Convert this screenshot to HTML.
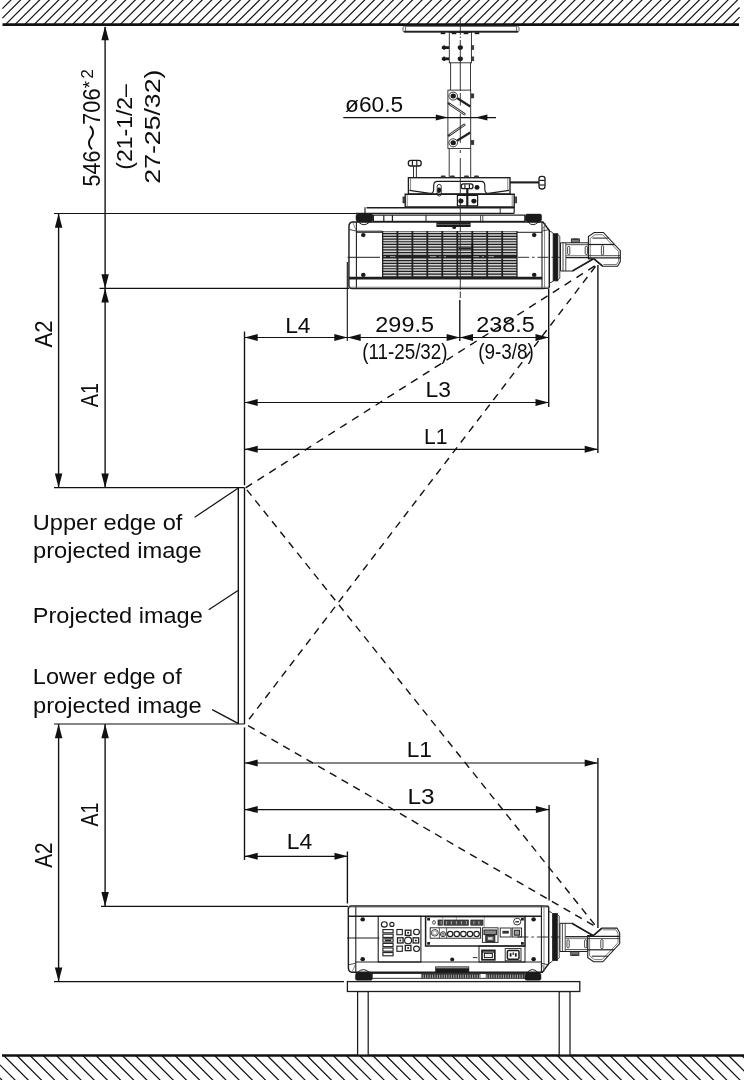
<!DOCTYPE html>
<html lang="en">
<head>
<meta charset="utf-8">
<title>Projector installation dimensions</title>
<style>
html,body{margin:0;padding:0;background:#fff;}
body{width:744px;height:1080px;overflow:hidden;}
svg{display:block;}
text{font-family:"Liberation Sans", "Noto Sans CJK JP", sans-serif;fill:#0d0d0d;stroke:none;}
</style>
</head>
<body>
<svg width="744" height="1080" viewBox="0 0 744 1080" fill="none" stroke="#111" stroke-width="1">
<g id="ceiling">
<path d="M2.4 8.58L11.78 -0.8M2.4 18.14L21.34 -0.8M5.4 24.7L30.9 -0.8M14.96 24.7L40.46 -0.8M24.52 24.7L50.02 -0.8M34.08 24.7L59.58 -0.8M43.64 24.7L69.14 -0.8M53.2 24.7L78.7 -0.8M62.76 24.7L88.26 -0.8M72.32 24.7L97.82 -0.8M81.88 24.7L107.38 -0.8M91.44 24.7L116.94 -0.8M101 24.7L126.5 -0.8M110.56 24.7L136.06 -0.8M120.12 24.7L145.62 -0.8M129.68 24.7L155.18 -0.8M139.24 24.7L164.74 -0.8M148.8 24.7L174.3 -0.8M158.36 24.7L183.86 -0.8M167.92 24.7L193.42 -0.8M177.48 24.7L202.98 -0.8M187.04 24.7L212.54 -0.8M196.6 24.7L222.1 -0.8M206.16 24.7L231.66 -0.8M215.72 24.7L241.22 -0.8M225.28 24.7L250.78 -0.8M234.84 24.7L260.34 -0.8M244.4 24.7L269.9 -0.8M253.96 24.7L279.46 -0.8M263.52 24.7L289.02 -0.8M273.08 24.7L298.58 -0.8M282.64 24.7L308.14 -0.8M292.2 24.7L317.7 -0.8M301.76 24.7L327.26 -0.8M311.32 24.7L336.82 -0.8M320.88 24.7L346.38 -0.8M330.44 24.7L355.94 -0.8M340 24.7L365.5 -0.8M349.56 24.7L375.06 -0.8M359.12 24.7L384.62 -0.8M368.68 24.7L394.18 -0.8M378.24 24.7L403.74 -0.8M387.8 24.7L413.3 -0.8M397.36 24.7L422.86 -0.8M406.92 24.7L432.42 -0.8M416.48 24.7L441.98 -0.8M426.04 24.7L451.54 -0.8M435.6 24.7L461.1 -0.8M445.16 24.7L470.66 -0.8M454.72 24.7L480.22 -0.8M464.28 24.7L489.78 -0.8M473.84 24.7L499.34 -0.8M483.4 24.7L508.9 -0.8M492.96 24.7L518.46 -0.8M502.52 24.7L528.02 -0.8M512.08 24.7L537.58 -0.8M521.64 24.7L547.14 -0.8M531.2 24.7L556.7 -0.8M540.76 24.7L566.26 -0.8M550.32 24.7L575.82 -0.8M559.88 24.7L585.38 -0.8M569.44 24.7L594.94 -0.8M579 24.7L604.5 -0.8M588.56 24.7L614.06 -0.8M598.12 24.7L623.62 -0.8M607.68 24.7L633.18 -0.8M617.24 24.7L642.74 -0.8M626.8 24.7L652.3 -0.8M636.36 24.7L661.86 -0.8M645.92 24.7L671.42 -0.8M655.48 24.7L680.98 -0.8M665.04 24.7L690.54 -0.8M674.6 24.7L700.1 -0.8M684.16 24.7L709.66 -0.8M693.72 24.7L719.22 -0.8M703.28 24.7L728.78 -0.8M712.84 24.7L738.34 -0.8M722.4 24.7L739.6 7.5M731.96 24.7L739.6 17.06" stroke-width="1.2"/>
<line x1="2.5" y1="24.6" x2="739" y2="24.6" stroke-width="2.6"/>
</g>
<g id="floor">
<path d="M-1 1077.16L2.84 1081M-1 1063.98L16.02 1081M3.7 1055.5L29.2 1081M16.88 1055.5L42.38 1081M30.06 1055.5L55.56 1081M43.24 1055.5L68.74 1081M56.42 1055.5L81.92 1081M69.6 1055.5L95.1 1081M82.78 1055.5L108.28 1081M95.96 1055.5L121.46 1081M109.14 1055.5L134.64 1081M122.32 1055.5L147.82 1081M135.5 1055.5L161 1081M148.68 1055.5L174.18 1081M161.86 1055.5L187.36 1081M175.04 1055.5L200.54 1081M188.22 1055.5L213.72 1081M201.4 1055.5L226.9 1081M214.58 1055.5L240.08 1081M227.76 1055.5L253.26 1081M240.94 1055.5L266.44 1081M254.12 1055.5L279.62 1081M267.3 1055.5L292.8 1081M280.48 1055.5L305.98 1081M293.66 1055.5L319.16 1081M306.84 1055.5L332.34 1081M320.02 1055.5L345.52 1081M333.2 1055.5L358.7 1081M346.38 1055.5L371.88 1081M359.56 1055.5L385.06 1081M372.74 1055.5L398.24 1081M385.92 1055.5L411.42 1081M399.1 1055.5L424.6 1081M412.28 1055.5L437.78 1081M425.46 1055.5L450.96 1081M438.64 1055.5L464.14 1081M451.82 1055.5L477.32 1081M465 1055.5L490.5 1081M478.18 1055.5L503.68 1081M491.36 1055.5L516.86 1081M504.54 1055.5L530.04 1081M517.72 1055.5L543.22 1081M530.9 1055.5L556.4 1081M544.08 1055.5L569.58 1081M557.26 1055.5L582.76 1081M570.44 1055.5L595.94 1081M583.62 1055.5L609.12 1081M596.8 1055.5L622.3 1081M609.98 1055.5L635.48 1081M623.16 1055.5L648.66 1081M636.34 1055.5L661.84 1081M649.52 1055.5L675.02 1081M662.7 1055.5L688.2 1081M675.88 1055.5L701.38 1081M689.06 1055.5L714.56 1081M702.24 1055.5L727.74 1081M715.42 1055.5L740.92 1081M728.6 1055.5L745 1071.9M741.78 1055.5L745 1058.72" stroke-width="1.2"/>
<line x1="2" y1="1055.5" x2="744" y2="1055.5" stroke-width="2.6"/>
</g>
<g id="dims" stroke-width="1.25">
<line x1="105.1" y1="27" x2="105.1" y2="487.7" stroke-width="1.38"/>
<path d="M105.1 26 L108.85 40.2 L101.35 40.2 Z" fill="#111" stroke="none"/>
<path d="M105.1 288.4 L108.85 302.6 L101.35 302.6 Z" fill="#111" stroke="none"/>
<path d="M105.1 288.4 L101.35 274.2 L108.85 274.2 Z" fill="#111" stroke="none"/>
<path d="M105.1 487.7 L101.35 473.5 L108.85 473.5 Z" fill="#111" stroke="none"/>
<line x1="58.6" y1="213.5" x2="58.6" y2="487.7" stroke-width="1.38"/>
<path d="M58.6 213.5 L62.35 227.7 L54.85 227.7 Z" fill="#111" stroke="none"/>
<path d="M58.6 487.7 L54.85 473.5 L62.35 473.5 Z" fill="#111" stroke="none"/>
<line x1="54" y1="213.5" x2="357" y2="213.5" stroke-width="1.22"/>
<line x1="99.5" y1="288.4" x2="349" y2="288.4" stroke-width="1.22"/>
<line x1="54" y1="487.7" x2="244.6" y2="487.7" stroke-width="1.22"/>
<line x1="54" y1="724" x2="244.6" y2="724" stroke-width="1.22"/>
<line x1="105.1" y1="724" x2="105.1" y2="906.3" stroke-width="1.38"/>
<path d="M105.1 724 L108.85 738.2 L101.35 738.2 Z" fill="#111" stroke="none"/>
<path d="M105.1 906.3 L101.35 892.1 L108.85 892.1 Z" fill="#111" stroke="none"/>
<line x1="58.6" y1="724" x2="58.6" y2="981.6" stroke-width="1.38"/>
<path d="M58.6 724 L62.35 738.2 L54.85 738.2 Z" fill="#111" stroke="none"/>
<path d="M58.6 981.6 L54.85 967.4 L62.35 967.4 Z" fill="#111" stroke="none"/>
<line x1="101" y1="906.3" x2="348" y2="906.3" stroke-width="1.22"/>
<line x1="54" y1="981.6" x2="344" y2="981.6" stroke-width="1.22"/>
<line x1="244.5" y1="331.5" x2="244.5" y2="485.2" stroke-width="1.38"/>
<line x1="244.5" y1="488" x2="244.5" y2="724" stroke-width="1.38"/>
<line x1="244.5" y1="727.4" x2="244.5" y2="860" stroke-width="1.38"/>
<line x1="238.3" y1="487.7" x2="238.3" y2="724" stroke-width="1.38"/>
<line x1="194.7" y1="517.2" x2="238" y2="488.3" stroke-width="1.22"/>
<line x1="208.7" y1="609.8" x2="238" y2="590.6" stroke-width="1.22"/>
<line x1="212.2" y1="709.6" x2="238" y2="723.4" stroke-width="1.22"/>
<line x1="347.3" y1="262" x2="347.3" y2="341" stroke-width="1.1"/>
<line x1="459.8" y1="300" x2="459.8" y2="341" stroke-width="1.38"/>
<line x1="548.7" y1="289" x2="548.7" y2="407" stroke-width="1.38"/>
<line x1="597.9" y1="265" x2="597.9" y2="453" stroke-width="1.38"/>
<line x1="244.5" y1="337.5" x2="548.7" y2="337.5" stroke-width="1.22"/>
<path d="M244.5 337.5 L257.7 334 L257.7 341 Z" fill="#111" stroke="none"/>
<path d="M347.5 337.5 L334.3 341 L334.3 334 Z" fill="#111" stroke="none"/>
<path d="M347.5 337.5 L360.7 334 L360.7 341 Z" fill="#111" stroke="none"/>
<path d="M459.8 337.5 L446.6 341 L446.6 334 Z" fill="#111" stroke="none"/>
<path d="M459.8 337.5 L473 334 L473 341 Z" fill="#111" stroke="none"/>
<path d="M548.7 337.5 L535.5 341 L535.5 334 Z" fill="#111" stroke="none"/>
<line x1="244.5" y1="402.5" x2="548.7" y2="402.5" stroke-width="1.22"/>
<path d="M244.5 402.5 L257.7 399 L257.7 406 Z" fill="#111" stroke="none"/>
<path d="M548.7 402.5 L535.5 406 L535.5 399 Z" fill="#111" stroke="none"/>
<line x1="244.5" y1="449.3" x2="597.9" y2="449.3" stroke-width="1.22"/>
<path d="M244.5 449.3 L257.7 445.8 L257.7 452.8 Z" fill="#111" stroke="none"/>
<path d="M597.9 449.3 L584.7 452.8 L584.7 445.8 Z" fill="#111" stroke="none"/>
<line x1="244.5" y1="763" x2="597.9" y2="763" stroke-width="1.22"/>
<path d="M244.5 763 L257.7 759.5 L257.7 766.5 Z" fill="#111" stroke="none"/>
<path d="M597.9 763 L584.7 766.5 L584.7 759.5 Z" fill="#111" stroke="none"/>
<line x1="244.5" y1="809.6" x2="549.1" y2="809.6" stroke-width="1.22"/>
<path d="M244.5 809.6 L257.7 806.1 L257.7 813.1 Z" fill="#111" stroke="none"/>
<path d="M549.1 809.6 L535.9 813.1 L535.9 806.1 Z" fill="#111" stroke="none"/>
<line x1="244.5" y1="856.3" x2="347.7" y2="856.3" stroke-width="1.22"/>
<path d="M244.5 856.3 L257.7 852.8 L257.7 859.8 Z" fill="#111" stroke="none"/>
<path d="M347.7 856.3 L334.5 859.8 L334.5 852.8 Z" fill="#111" stroke="none"/>
<line x1="597.9" y1="758" x2="597.9" y2="928" stroke-width="1.38"/>
<line x1="549.1" y1="805" x2="549.1" y2="900.5" stroke-width="1.38"/>
<line x1="347.4" y1="851.5" x2="347.4" y2="903.5" stroke-width="1.38"/>
<g stroke-width="1.4">
<line x1="245.4" y1="488" x2="597" y2="264.5" stroke-width="1.4" stroke-dasharray="7.7 6.3" stroke-dashoffset="13.7"/>
<line x1="245.4" y1="724" x2="597" y2="264.5" stroke-width="1.4" stroke-dasharray="7.4 6.0" stroke-dashoffset="7.4"/>
<line x1="245.4" y1="488" x2="597" y2="927.5" stroke-width="1.4" stroke-dasharray="7.4 6.0" stroke-dashoffset="11.0"/>
<line x1="245.4" y1="724" x2="597" y2="927.5" stroke-width="1.4" stroke-dasharray="7.6 5.9" stroke-dashoffset="10.4"/>
</g>
</g>
<g id="ceiling-mount" stroke="#222" stroke-width="0.9">
<rect x="403" y="26.3" width="116" height="5.7" fill="none" stroke="#444" rx="1.5"/>
<line x1="404" y1="31.6" x2="518" y2="31.6" stroke-width="1.7"/>
<line x1="405.5" y1="27" x2="405.5" y2="31" stroke="#666"/>
<line x1="516.5" y1="27" x2="516.5" y2="31" stroke="#666"/>
<rect x="449.3" y="32.5" width="22.1" height="30.3" fill="#fff"/>
<rect x="440.7" y="32.3" width="4.6" height="1.9" fill="#1a1a1a" stroke="none"/>
<rect x="451.7" y="32.3" width="4.6" height="1.9" fill="#1a1a1a" stroke="none"/>
<rect x="463.7" y="32.3" width="4.6" height="1.9" fill="#1a1a1a" stroke="none"/>
<rect x="474.7" y="32.3" width="4.6" height="1.9" fill="#1a1a1a" stroke="none"/>
<rect x="441.8" y="46.2" width="7.2" height="2.8" fill="#1a1a1a" stroke="none"/>
<rect x="443.2" y="45.4" width="2" height="4.4" fill="#1a1a1a" stroke="none"/>
<rect x="471.8" y="45.7" width="2" height="3.8" fill="#444" stroke-width="0.6"/>
<ellipse cx="460.3" cy="47.6" rx="2.6" ry="2.4" fill="#1a1a1a" stroke="none"/>
<rect x="441.8" y="57.4" width="7.2" height="2.8" fill="#1a1a1a" stroke="none"/>
<rect x="443.2" y="56.6" width="2" height="4.4" fill="#1a1a1a" stroke="none"/>
<rect x="471.8" y="56.9" width="2" height="3.8" fill="#444" stroke-width="0.6"/>
<ellipse cx="460.3" cy="58.8" rx="2.6" ry="2.4" fill="#1a1a1a" stroke="none"/>
<line x1="450.6" y1="62.8" x2="450.6" y2="90"/>
<line x1="470.5" y1="62.8" x2="470.5" y2="90"/>
<line x1="449.2" y1="148.4" x2="449.2" y2="177.5"/>
<line x1="470.7" y1="148.4" x2="470.7" y2="177.5"/>
<rect x="447.9" y="90.1" width="22.8" height="58.3" fill="#fff"/>
<rect x="471.2" y="93.9" width="2.6" height="4" fill="#333" stroke-width="0.6"/>
<path d="M457.0 98.1 L470.3 106.4" fill="none" stroke-width="2.3"/>
<path d="M448.8 103.5 L464.4 114.1" fill="none" stroke-width="2.4" stroke="#2a2a2a" stroke-linecap="round"/>
<path d="M450 104.3 L464.4 114.1" fill="none" stroke-width="0.8" stroke="#eee" stroke-linecap="round"/>
<ellipse cx="453.2" cy="96.1" rx="4.3" ry="4" fill="#fff"/>
<ellipse cx="453.2" cy="96.1" rx="2.7" ry="2.5" fill="#1a1a1a" stroke="none"/>
<rect x="471.2" y="140.6" width="2.6" height="4" fill="#333" stroke-width="0.6"/>
<path d="M457.0 140.8 L470.3 132.5" fill="none" stroke-width="2.3"/>
<path d="M448.8 135.4 L464.4 124.8" fill="none" stroke-width="2.4" stroke="#2a2a2a" stroke-linecap="round"/>
<path d="M450 134.6 L464.4 124.8" fill="none" stroke-width="0.8" stroke="#eee" stroke-linecap="round"/>
<ellipse cx="453.2" cy="142.8" rx="4.3" ry="4" fill="#fff"/>
<ellipse cx="453.2" cy="142.8" rx="2.7" ry="2.5" fill="#1a1a1a" stroke="none"/>
</g>
<g stroke="#111" stroke-width="1.05">
<line x1="343.3" y1="117.6" x2="496" y2="117.6"/>
<path d="M447.8 117.6 L435.8 120.6 L435.8 114.6 Z" fill="#111" stroke="none"/>
<path d="M475.4 117.6 L487.4 114.6 L487.4 120.6 Z" fill="#111" stroke="none"/>
</g>
<g id="mount" stroke="#1c1c1c" stroke-width="1.15">
<line x1="413.5" y1="166" x2="413.5" y2="177.5" stroke-width="0.9"/>
<line x1="416.4" y1="166" x2="416.4" y2="177.5" stroke-width="0.9"/>
<rect x="408.3" y="160.4" width="12.9" height="5.6" fill="#fff" stroke-width="1.3" rx="2.6"/>
<line x1="412.4" y1="160.6" x2="412.4" y2="165.8"/>
<line x1="416.8" y1="160.6" x2="416.8" y2="165.8"/>
<line x1="510" y1="182.4" x2="539.5" y2="182.4" stroke-width="2.1"/>
<rect x="539" y="176.4" width="6" height="12.6" fill="#fff" stroke-width="1.3" rx="2.4"/>
<line x1="539.2" y1="180.4" x2="544.8" y2="180.4"/>
<line x1="539.2" y1="185" x2="544.8" y2="185"/>
<rect x="408.4" y="177.7" width="101.6" height="16.3" fill="#fff" stroke-width="1.35"/>
<rect x="440.8" y="175.6" width="4.8" height="1.9" fill="#333" stroke="none" rx="0.8"/>
<rect x="450" y="175.6" width="4.8" height="1.9" fill="#333" stroke="none" rx="0.8"/>
<rect x="464.1" y="175.6" width="4.8" height="1.9" fill="#333" stroke="none" rx="0.8"/>
<rect x="474.1" y="175.6" width="4.8" height="1.9" fill="#333" stroke="none" rx="0.8"/>
<path d="M409.4 190.4 L430 193.4 Q433.4 193.4 433.6 190 L433.8 184.6 Q434 181.3 437.5 181.3 L481 181.3 Q484.5 181.3 484.7 184.6 L484.9 190 Q485.1 193.4 488.5 193.4 L509 190.4" fill="none"/>
<line x1="410.6" y1="178" x2="410.6" y2="190.4" stroke-width="0.7" stroke="#555"/>
<line x1="507.8" y1="178" x2="507.8" y2="190.4" stroke-width="0.7" stroke="#555"/>
<rect x="437.2" y="184.4" width="4" height="11.6" fill="#fff" stroke-width="0.9" rx="2"/>
<ellipse cx="439.2" cy="190.2" rx="1.9" ry="2.8" fill="#1a1a1a" stroke="none"/>
<line x1="467.3" y1="188" x2="467.3" y2="206" stroke-width="2.2"/>
<rect x="461.2" y="183.9" width="11.8" height="4.7" fill="#fff" stroke-width="1.3" rx="2.2"/>
<line x1="464.9" y1="184.2" x2="464.9" y2="188.4"/>
<line x1="469.4" y1="184.2" x2="469.4" y2="188.4"/>
<ellipse cx="477" cy="187.4" rx="2.5" ry="2.3" fill="#1a1a1a" stroke="none"/>
<rect x="457.4" y="195.4" width="20.2" height="10.4" fill="#fff" stroke-width="1.2"/>
<ellipse cx="460.9" cy="201.1" rx="2.6" ry="2.4" fill="#1a1a1a" stroke="none"/>
<ellipse cx="473.9" cy="201.1" rx="2.6" ry="2.4" fill="#1a1a1a" stroke="none"/>
<line x1="467.3" y1="195" x2="467.3" y2="206.4" stroke-width="2.2"/>
<path d="M405.2 194.2 L514.2 194.2 L514.2 207 L405.2 207 Z" fill="none" stroke-width="1.35"/>
<line x1="407.2" y1="194.5" x2="407.2" y2="207" stroke-width="0.7" stroke="#555"/>
<line x1="512.2" y1="194.5" x2="512.2" y2="207" stroke-width="0.7" stroke="#555"/>
<rect x="403" y="197" width="2" height="5.8" fill="#555" stroke-width="0.8"/>
<rect x="514.4" y="197" width="2" height="5.8" fill="#555" stroke-width="0.8"/>
<line x1="365" y1="207.2" x2="365" y2="213.3"/>
<line x1="366.6" y1="207.8" x2="514.2" y2="207.8" stroke-width="1.5"/>
<line x1="356" y1="213.3" x2="514.2" y2="213.3" stroke-width="1.3"/>
<line x1="514.2" y1="207.2" x2="514.2" y2="213.3"/>
<line x1="500.2" y1="207.7" x2="500.2" y2="213.3" stroke-width="0.9"/>
</g>
<g id="projector-top" stroke="#1e1e1e" stroke-width="1.0">
<path d="M356 288.4 L542 288.4 L548.6 288.1 L549.3 286.9 L549.3 230.5 L543 222.0 L352.5 222.0 Q349.2 222.3 349 226.0 L348.9 285.4 Q348.9 288.4 352 288.4 Z" fill="#fff" stroke-width="1.45"/>
<line x1="356.4" y1="288.4" x2="356.4" y2="222" stroke-width="1.1"/>
<line x1="542" y1="288.4" x2="542" y2="222" stroke-width="1.1"/>
<line x1="544.6" y1="287.9" x2="544.6" y2="224" stroke-width="0.7" stroke="#555"/>
<path d="M349.2 229.5 L356 231.0" fill="none" stroke-width="0.8"/>
<path d="M353 223.0 L356 230.0" fill="none" stroke-width="0.7" stroke="#555"/>
<path d="M542.2 231.0 L549.3 229.5" fill="none" stroke-width="0.8"/>
<path d="M545.5 223.0 L542.5 230.0" fill="none" stroke-width="0.7" stroke="#555"/>
<path d="M358.5 222.2 Q363.9 227.2 369.5 222.2" fill="#fff"/>
<path d="M357.6 214.1 L371.4 214.1 Q373.0 214.1 373.0 215.7 L373.0 219.4 Q372.6 222.4 368.5 222.5 L360.5 222.5 Q356.4 222.4 356.0 219.4 L356.0 215.7 Q356.0 214.1 357.6 214.1 Z" fill="#1a1a1a" stroke-width="0.5"/>
<path d="M528.1 222.2 Q533.0 227.2 538.1 222.2" fill="#fff"/>
<path d="M527.2 214.1 L540.0 214.1 Q541.6 214.1 541.6 215.7 L541.6 219.4 Q541.2 222.4 537.1 222.5 L530.1 222.5 Q526.0 222.4 525.6 219.4 L525.6 215.7 Q525.6 214.1 527.2 214.1 Z" fill="#1a1a1a" stroke-width="0.5"/>
<line x1="349" y1="278.1" x2="542.2" y2="278.1" stroke-width="2.6"/>
<line x1="356" y1="232.3" x2="542.2" y2="232.3"/>
<line x1="349" y1="287.2" x2="549" y2="287.2" stroke-width="0.7" stroke="#666"/>
<rect x="372.8" y="216" width="152.6" height="4.8" fill="#fff" stroke-width="0.9"/>
<ellipse cx="363.3" cy="274.9" rx="2.3" ry="2.1" fill="#1a1a1a" stroke="none"/>
<ellipse cx="363.3" cy="235.1" rx="2.3" ry="2.1" fill="#1a1a1a" stroke="none"/>
<ellipse cx="534.2" cy="274.9" rx="2.3" ry="2.1" fill="#1a1a1a" stroke="none"/>
<ellipse cx="534.2" cy="235.1" rx="2.3" ry="2.1" fill="#1a1a1a" stroke="none"/>
<path d="M549.3 282.8 Q552.5 282.3 553.2 280.8 L553.2 233.8 Q552.5 231.8 549.3 230.8" fill="none" stroke-width="0.9"/>
<rect x="553.6" y="233.7" width="4.3" height="47.2" fill="#1a1a1a" stroke-width="0.8"/>
<path d="M558 279.8 L559.8 278.3 L559.8 236.3 L558 234.8" fill="none" stroke-width="0.8"/>
<line x1="347.6" y1="257.3" x2="380" y2="257.3"/>
<line x1="518" y1="257.3" x2="566" y2="257.3" stroke-width="0.9" stroke-dasharray="11 3 2.5 3"/>
<path d="M560.5 242.8 L588.4 242.8 L588.4 258.8 L593.6 258.8 L572.4 271.0 L560.5 271.0 Z" fill="#fff"/>
<path d="M572.4 271.0 L593.6 258.8" fill="none" stroke-width="1.6"/>
<line x1="563" y1="271" x2="563" y2="242.8" stroke-width="0.8"/>
<line x1="565.8" y1="271" x2="565.8" y2="242.8" stroke-width="0.8"/>
<line x1="566" y1="244.7" x2="588.4" y2="244.7" stroke-width="0.8"/>
<line x1="566" y1="257.6" x2="590" y2="257.6" stroke-width="1.3"/>
<line x1="566" y1="255.7" x2="588.4" y2="255.7" stroke-width="0.7" stroke="#444"/>
<rect x="567.6" y="246.5" width="2.2" height="8" fill="none" stroke-width="0.8" rx="0.8"/>
<rect x="585.2" y="246.5" width="2.2" height="8" fill="none" stroke-width="0.8" rx="0.8"/>
<rect x="571.3" y="238.9" width="8.2" height="3.7" fill="#777" stroke-width="0.8"/>
<rect x="572.6" y="238.7" width="5.6" height="1.2" fill="#333" stroke="none"/>
<path d="M588.4 258.8 L588.4 236.5 L594.2 232.5 L603.4 232.5 L620.3 250.7 L620.3 261.5 L617.6 266.2 L602.6 266.2 L594 258.8 Z" fill="#fff" stroke-width="1.1"/>
<path d="M590.2 238.5 L595 234.7 L602.6 234.7 L618.6 251.5 L618.6 260.9 L616.6 264.5 L603.4 264.5" fill="none" stroke-width="0.7" stroke="#444"/>
<path d="M590.2 238.5 L590.2 258.8" fill="none" stroke-width="0.7" stroke="#444"/>
<path d="M592.5 238.1 L608.6 238.1" fill="none"/>
<line x1="588.4" y1="244.5" x2="614.6" y2="244.5" stroke-width="1.2"/>
<line x1="588.4" y1="255.7" x2="620.3" y2="255.7" stroke-width="0.8"/>
<line x1="588.4" y1="257.9" x2="620.3" y2="257.9" stroke-width="1.2"/>
<line x1="594" y1="258.8" x2="602.6" y2="266.2" stroke-width="1.6"/>
<rect x="601.4" y="245.7" width="2.2" height="9" fill="none" stroke-width="0.8" rx="0.8"/>
<g id="grill" stroke="none">
<line x1="356" y1="231.2" x2="382.4" y2="231.2" stroke="#222"/>
<rect x="382" y="231" width="135.6" height="46" fill="#202020" stroke="none"/>
<path d="M383.3 232.30H396.5M383.3 235.00H396.5M383.3 237.70H396.5M383.3 240.40H396.5M383.3 243.10H396.5M383.3 245.80H396.5M383.3 248.50H396.5M383.3 251.20H396.5M383.3 253.90H396.5M383.3 259.30H396.5M383.3 262.00H396.5M383.3 264.70H396.5M383.3 267.40H396.5M383.3 270.10H396.5M383.3 272.80H396.5M383.3 275.50H396.5M398.3 232.30H411.5M398.3 235.00H411.5M398.3 237.70H411.5M398.3 240.40H411.5M398.3 243.10H411.5M398.3 245.80H411.5M398.3 248.50H411.5M398.3 251.20H411.5M398.3 253.90H411.5M398.3 259.30H411.5M398.3 262.00H411.5M398.3 264.70H411.5M398.3 267.40H411.5M398.3 270.10H411.5M398.3 272.80H411.5M398.3 275.50H411.5M413.3 232.30H426.4M413.3 235.00H426.4M413.3 237.70H426.4M413.3 240.40H426.4M413.3 243.10H426.4M413.3 245.80H426.4M413.3 248.50H426.4M413.3 251.20H426.4M413.3 253.90H426.4M413.3 259.30H426.4M413.3 262.00H426.4M413.3 264.70H426.4M413.3 267.40H426.4M413.3 270.10H426.4M413.3 272.80H426.4M413.3 275.50H426.4M428.2 232.30H441.4M428.2 235.00H441.4M428.2 237.70H441.4M428.2 240.40H441.4M428.2 243.10H441.4M428.2 245.80H441.4M428.2 248.50H441.4M428.2 251.20H441.4M428.2 253.90H441.4M428.2 259.30H441.4M428.2 262.00H441.4M428.2 264.70H441.4M428.2 267.40H441.4M428.2 270.10H441.4M428.2 272.80H441.4M428.2 275.50H441.4M443.2 232.30H456.4M443.2 235.00H456.4M443.2 237.70H456.4M443.2 240.40H456.4M443.2 243.10H456.4M443.2 245.80H456.4M443.2 248.50H456.4M443.2 251.20H456.4M443.2 253.90H456.4M443.2 259.30H456.4M443.2 262.00H456.4M443.2 264.70H456.4M443.2 267.40H456.4M443.2 270.10H456.4M443.2 272.80H456.4M443.2 275.50H456.4M458.2 232.30H471.4M458.2 235.00H471.4M458.2 237.70H471.4M458.2 240.40H471.4M458.2 243.10H471.4M458.2 245.80H471.4M458.2 248.50H471.4M458.2 251.20H471.4M458.2 253.90H471.4M458.2 259.30H471.4M458.2 262.00H471.4M458.2 264.70H471.4M458.2 267.40H471.4M458.2 270.10H471.4M458.2 272.80H471.4M458.2 275.50H471.4M473.2 232.30H486.3M473.2 235.00H486.3M473.2 237.70H486.3M473.2 240.40H486.3M473.2 243.10H486.3M473.2 245.80H486.3M473.2 248.50H486.3M473.2 251.20H486.3M473.2 253.90H486.3M473.2 259.30H486.3M473.2 262.00H486.3M473.2 264.70H486.3M473.2 267.40H486.3M473.2 270.10H486.3M473.2 272.80H486.3M473.2 275.50H486.3M488.1 232.30H501.3M488.1 235.00H501.3M488.1 237.70H501.3M488.1 240.40H501.3M488.1 243.10H501.3M488.1 245.80H501.3M488.1 248.50H501.3M488.1 251.20H501.3M488.1 253.90H501.3M488.1 259.30H501.3M488.1 262.00H501.3M488.1 264.70H501.3M488.1 267.40H501.3M488.1 270.10H501.3M488.1 272.80H501.3M488.1 275.50H501.3M503.1 232.30H516.3M503.1 235.00H516.3M503.1 237.70H516.3M503.1 240.40H516.3M503.1 243.10H516.3M503.1 245.80H516.3M503.1 248.50H516.3M503.1 251.20H516.3M503.1 253.90H516.3M503.1 259.30H516.3M503.1 262.00H516.3M503.1 264.70H516.3M503.1 267.40H516.3M503.1 270.10H516.3M503.1 272.80H516.3M503.1 275.50H516.3" stroke="#d2d2d2" stroke-width="1.5" fill="none"/>
<line x1="383.6" y1="256.6" x2="386" y2="256.6" stroke="#9a9a9a"/>
<line x1="390" y1="256.6" x2="395.4" y2="256.6" stroke="#9a9a9a"/>
<line x1="429.8" y1="256.6" x2="436.2" y2="256.6" stroke="#9a9a9a"/>
<line x1="439.4" y1="256.6" x2="440.6" y2="256.6" stroke="#9a9a9a"/>
<line x1="443.8" y1="256.6" x2="446" y2="256.6" stroke="#9a9a9a"/>
<line x1="473" y1="256.6" x2="479" y2="256.6" stroke="#9a9a9a"/>
<line x1="482" y1="256.6" x2="484" y2="256.6" stroke="#9a9a9a"/>
<line x1="488.5" y1="256.6" x2="494" y2="256.6" stroke="#9a9a9a"/>
<line x1="472.4" y1="243.5" x2="472.4" y2="262.5" stroke-width="1.6" stroke="#111"/>
<line x1="458.5" y1="248.4" x2="471.4" y2="248.4" stroke-width="1.1" stroke="#1c1c1c"/>
</g>
<rect x="373.4" y="215.1" width="151.4" height="6.3" fill="#fff" stroke-width="1.2"/>
<line x1="383.8" y1="215.2" x2="383.8" y2="221.6" stroke-width="1.2"/>
<line x1="392.4" y1="215.2" x2="392.4" y2="221.6" stroke-width="1.2"/>
<line x1="426" y1="215.2" x2="426" y2="221.6"/>
<line x1="482.8" y1="215.2" x2="482.8" y2="221.6" stroke-width="0.8"/>
<line x1="480.6" y1="215.2" x2="480.6" y2="221.6" stroke-width="0.8"/>
<rect x="436.4" y="222.2" width="34.2" height="4.8" fill="#1a1a1a" stroke="none"/>
<line x1="436.4" y1="224.4" x2="470.6" y2="224.4" stroke-width="0.6" stroke="#999"/>
<ellipse cx="454.2" cy="227.4" rx="1.9" ry="1.7" fill="#1a1a1a" stroke="none"/>
</g>
<g stroke="#222" stroke-width="0.9">
<line x1="460.3" y1="17.5" x2="460.3" y2="35"/>
<line x1="460.3" y1="36.5" x2="460.3" y2="38"/>
<line x1="460.3" y1="40" x2="460.3" y2="91"/>
<line x1="460.3" y1="93" x2="460.3" y2="105.5"/>
<line x1="460.3" y1="113.5" x2="460.3" y2="143"/>
<line x1="460.3" y1="150" x2="460.3" y2="153"/>
<line x1="460.3" y1="158" x2="460.3" y2="196"/>
<line x1="460.3" y1="198" x2="460.3" y2="206"/>
<line x1="460.3" y1="207" x2="460.3" y2="232"/>
<line x1="460.3" y1="234" x2="460.3" y2="290"/>
<line x1="460.3" y1="291.5" x2="460.3" y2="298"/>
</g>
<g id="table" stroke="#1c1c1c" stroke-width="1.25">
<rect x="357.6" y="991.5" width="10.6" height="63.5" fill="#fff"/>
<rect x="559.2" y="991.5" width="10.8" height="63.5" fill="#fff"/>
<rect x="347.4" y="981.6" width="232.4" height="9.9" fill="#fff" stroke-width="1.3"/>
</g>
<g id="projector-bottom" stroke="#1e1e1e" stroke-width="1.0" transform="translate(-0.6 0)">
<path d="M356 905.9 L542 905.9 L548.6 906.2 L549.3 907.4 L549.3 963.8 L543 972.3 L352.5 972.3 Q349.2 972.0 349 968.3 L348.9 908.9 Q348.9 905.9 352 905.9 Z" fill="#fff" stroke-width="1.45"/>
<line x1="356.4" y1="905.9" x2="356.4" y2="972.3" stroke-width="1.1"/>
<line x1="542" y1="905.9" x2="542" y2="972.3" stroke-width="1.1"/>
<line x1="544.6" y1="906.4" x2="544.6" y2="970.3" stroke-width="0.7" stroke="#555"/>
<path d="M349.2 964.8 L356 963.3" fill="none" stroke-width="0.8"/>
<path d="M353 971.3 L356 964.3" fill="none" stroke-width="0.7" stroke="#555"/>
<path d="M542.2 963.3 L549.3 964.8" fill="none" stroke-width="0.8"/>
<path d="M545.5 971.3 L542.5 964.3" fill="none" stroke-width="0.7" stroke="#555"/>
<path d="M358.5 972.1 Q363.9 967.1 369.5 972.1" fill="#fff"/>
<path d="M357.6 980.2 L371.4 980.2 Q373.0 980.2 373.0 978.6 L373.0 974.9 Q372.6 971.9 368.5 971.8 L360.5 971.8 Q356.4 971.9 356.0 974.9 L356.0 978.6 Q356.0 980.2 357.6 980.2 Z" fill="#1a1a1a" stroke-width="0.5"/>
<path d="M528.1 972.1 Q533.0 967.1 538.1 972.1" fill="#fff"/>
<path d="M527.2 980.2 L540.0 980.2 Q541.6 980.2 541.6 978.6 L541.6 974.9 Q541.2 971.9 537.1 971.8 L530.1 971.8 Q526.0 971.9 525.6 974.9 L525.6 978.6 Q525.6 980.2 527.2 980.2 Z" fill="#1a1a1a" stroke-width="0.5"/>
<line x1="349" y1="916.2" x2="542.2" y2="916.2" stroke-width="1.6"/>
<line x1="356" y1="962" x2="542.2" y2="962"/>
<line x1="349" y1="907.1" x2="549" y2="907.1" stroke-width="0.7" stroke="#666"/>
<rect x="372.8" y="973.5" width="152.6" height="4.8" fill="#fff" stroke-width="0.9"/>
<ellipse cx="363.3" cy="919.4" rx="2.3" ry="2.1" fill="#1a1a1a" stroke="none"/>
<ellipse cx="363.3" cy="959.2" rx="2.3" ry="2.1" fill="#1a1a1a" stroke="none"/>
<ellipse cx="534.2" cy="919.4" rx="2.3" ry="2.1" fill="#1a1a1a" stroke="none"/>
<ellipse cx="534.2" cy="959.2" rx="2.3" ry="2.1" fill="#1a1a1a" stroke="none"/>
<path d="M549.3 911.5 Q552.5 912.0 553.2 913.5 L553.2 960.5 Q552.5 962.5 549.3 963.5" fill="none" stroke-width="0.9"/>
<rect x="553.6" y="913.4" width="4.3" height="47.2" fill="#1a1a1a" stroke-width="0.8"/>
<path d="M558 914.5 L559.8 916.0 L559.8 958.0 L558 959.5" fill="none" stroke-width="0.8"/>
<line x1="347.6" y1="938" x2="380" y2="938"/>
<line x1="518" y1="937" x2="566" y2="937" stroke-width="0.9" stroke-dasharray="11 3 2.5 3"/>
<path d="M560.5 951.5 L588.4 951.5 L588.4 935.5 L593.6 935.5 L572.4 923.3 L560.5 923.3 Z" fill="#fff"/>
<path d="M572.4 923.3 L593.6 935.5" fill="none" stroke-width="1.6"/>
<line x1="563" y1="923.3" x2="563" y2="951.5" stroke-width="0.8"/>
<line x1="565.8" y1="923.3" x2="565.8" y2="951.5" stroke-width="0.8"/>
<line x1="566" y1="949.6" x2="588.4" y2="949.6" stroke-width="0.8"/>
<line x1="566" y1="936.7" x2="590" y2="936.7" stroke-width="1.3"/>
<line x1="566" y1="938.6" x2="588.4" y2="938.6" stroke-width="0.7" stroke="#444"/>
<rect x="567.6" y="939.8" width="2.2" height="8" fill="none" stroke-width="0.8" rx="0.8"/>
<rect x="585.2" y="939.8" width="2.2" height="8" fill="none" stroke-width="0.8" rx="0.8"/>
<rect x="571.3" y="951.7" width="8.2" height="3.7" fill="#777" stroke-width="0.8"/>
<rect x="572.6" y="954.4" width="5.6" height="1.2" fill="#333" stroke="none"/>
<path d="M588.4 935.5 L588.4 957.8 L594.2 961.8 L603.4 961.8 L620.3 943.6 L620.3 932.8 L617.6 928.1 L602.6 928.1 L594 935.5 Z" fill="#fff" stroke-width="1.1"/>
<path d="M590.2 955.8 L595 959.6 L602.6 959.6 L618.6 942.8 L618.6 933.4 L616.6 929.8 L603.4 929.8" fill="none" stroke-width="0.7" stroke="#444"/>
<path d="M590.2 955.8 L590.2 935.5" fill="none" stroke-width="0.7" stroke="#444"/>
<path d="M592.5 956.2 L608.6 956.2" fill="none"/>
<line x1="588.4" y1="949.8" x2="614.6" y2="949.8" stroke-width="1.2"/>
<line x1="588.4" y1="938.6" x2="620.3" y2="938.6" stroke-width="0.8"/>
<line x1="588.4" y1="936.4" x2="620.3" y2="936.4" stroke-width="1.2"/>
<line x1="594" y1="935.5" x2="602.6" y2="928.1" stroke-width="1.6"/>
<rect x="601.4" y="939.6" width="2.2" height="9" fill="none" stroke-width="0.8" rx="0.8"/>
<rect x="422.6" y="973.6" width="58.4" height="4.6" fill="#333" stroke="none"/>
<line x1="423.8" y1="974.6" x2="423.8" y2="978.2" stroke-width="0.7" stroke="#ddd"/>
<line x1="426.15" y1="974.6" x2="426.15" y2="978.2" stroke-width="0.7" stroke="#ddd"/>
<line x1="428.5" y1="974.6" x2="428.5" y2="978.2" stroke-width="0.7" stroke="#ddd"/>
<line x1="430.85" y1="974.6" x2="430.85" y2="978.2" stroke-width="0.7" stroke="#ddd"/>
<line x1="433.2" y1="974.6" x2="433.2" y2="978.2" stroke-width="0.7" stroke="#ddd"/>
<line x1="435.55" y1="974.6" x2="435.55" y2="978.2" stroke-width="0.7" stroke="#ddd"/>
<line x1="437.9" y1="974.6" x2="437.9" y2="978.2" stroke-width="0.7" stroke="#ddd"/>
<line x1="440.25" y1="974.6" x2="440.25" y2="978.2" stroke-width="0.7" stroke="#ddd"/>
<line x1="442.6" y1="974.6" x2="442.6" y2="978.2" stroke-width="0.7" stroke="#ddd"/>
<line x1="444.95" y1="974.6" x2="444.95" y2="978.2" stroke-width="0.7" stroke="#ddd"/>
<line x1="447.3" y1="974.6" x2="447.3" y2="978.2" stroke-width="0.7" stroke="#ddd"/>
<line x1="449.65" y1="974.6" x2="449.65" y2="978.2" stroke-width="0.7" stroke="#ddd"/>
<line x1="452" y1="974.6" x2="452" y2="978.2" stroke-width="0.7" stroke="#ddd"/>
<line x1="454.35" y1="974.6" x2="454.35" y2="978.2" stroke-width="0.7" stroke="#ddd"/>
<line x1="456.7" y1="974.6" x2="456.7" y2="978.2" stroke-width="0.7" stroke="#ddd"/>
<line x1="459.05" y1="974.6" x2="459.05" y2="978.2" stroke-width="0.7" stroke="#ddd"/>
<line x1="461.4" y1="974.6" x2="461.4" y2="978.2" stroke-width="0.7" stroke="#ddd"/>
<line x1="463.75" y1="974.6" x2="463.75" y2="978.2" stroke-width="0.7" stroke="#ddd"/>
<line x1="466.1" y1="974.6" x2="466.1" y2="978.2" stroke-width="0.7" stroke="#ddd"/>
<line x1="468.45" y1="974.6" x2="468.45" y2="978.2" stroke-width="0.7" stroke="#ddd"/>
<line x1="470.8" y1="974.6" x2="470.8" y2="978.2" stroke-width="0.7" stroke="#ddd"/>
<line x1="473.15" y1="974.6" x2="473.15" y2="978.2" stroke-width="0.7" stroke="#ddd"/>
<line x1="475.5" y1="974.6" x2="475.5" y2="978.2" stroke-width="0.7" stroke="#ddd"/>
<line x1="477.85" y1="974.6" x2="477.85" y2="978.2" stroke-width="0.7" stroke="#ddd"/>
<line x1="480.2" y1="974.6" x2="480.2" y2="978.2" stroke-width="0.7" stroke="#ddd"/>
<rect x="486.4" y="973.6" width="38.4" height="4.6" fill="#333" stroke="none"/>
<line x1="487.6" y1="974.6" x2="487.6" y2="978.2" stroke-width="0.7" stroke="#ddd"/>
<line x1="489.95" y1="974.6" x2="489.95" y2="978.2" stroke-width="0.7" stroke="#ddd"/>
<line x1="492.3" y1="974.6" x2="492.3" y2="978.2" stroke-width="0.7" stroke="#ddd"/>
<line x1="494.65" y1="974.6" x2="494.65" y2="978.2" stroke-width="0.7" stroke="#ddd"/>
<line x1="497" y1="974.6" x2="497" y2="978.2" stroke-width="0.7" stroke="#ddd"/>
<line x1="499.35" y1="974.6" x2="499.35" y2="978.2" stroke-width="0.7" stroke="#ddd"/>
<line x1="501.7" y1="974.6" x2="501.7" y2="978.2" stroke-width="0.7" stroke="#ddd"/>
<line x1="504.05" y1="974.6" x2="504.05" y2="978.2" stroke-width="0.7" stroke="#ddd"/>
<line x1="506.4" y1="974.6" x2="506.4" y2="978.2" stroke-width="0.7" stroke="#ddd"/>
<line x1="508.75" y1="974.6" x2="508.75" y2="978.2" stroke-width="0.7" stroke="#ddd"/>
<line x1="511.1" y1="974.6" x2="511.1" y2="978.2" stroke-width="0.7" stroke="#ddd"/>
<line x1="513.45" y1="974.6" x2="513.45" y2="978.2" stroke-width="0.7" stroke="#ddd"/>
<line x1="515.8" y1="974.6" x2="515.8" y2="978.2" stroke-width="0.7" stroke="#ddd"/>
<line x1="518.15" y1="974.6" x2="518.15" y2="978.2" stroke-width="0.7" stroke="#ddd"/>
<line x1="520.5" y1="974.6" x2="520.5" y2="978.2" stroke-width="0.7" stroke="#ddd"/>
<line x1="522.85" y1="974.6" x2="522.85" y2="978.2" stroke-width="0.7" stroke="#ddd"/>
<line x1="422.4" y1="973.6" x2="422.4" y2="978.2" stroke-width="0.8"/>
<rect x="435.8" y="966.4" width="34" height="5.6" fill="#1a1a1a" stroke="none"/>
<rect x="436.4" y="966.6" width="32.8" height="1.8" fill="#8a8a8a" stroke="none"/>
<rect x="378.8" y="916.4" width="42.7" height="45.6" fill="none" stroke-width="1.1"/>
<g transform="translate(0.9 0)" stroke-width="1.15">
<ellipse cx="384" cy="924.4" rx="2.9" ry="2.7" fill="none" stroke-width="1.1"/>
<ellipse cx="391.6" cy="924.4" rx="2.1" ry="2" fill="none" stroke-width="1.1"/>
<rect x="382.6" y="929.6" width="10.2" height="3.2" fill="none" stroke-width="1.1"/>
<rect x="382.6" y="934.2" width="10.2" height="3.2" fill="none" stroke-width="1.1"/>
<rect x="382.6" y="938.8" width="10.2" height="3.2" fill="none" stroke-width="1.1"/>
<rect x="382.6" y="943.4" width="10.2" height="3.2" fill="none" stroke-width="1.1"/>
<rect x="382.6" y="948" width="10.2" height="3.2" fill="none" stroke-width="1.1"/>
<rect x="382.6" y="952.6" width="10.2" height="3.2" fill="none" stroke-width="1.1"/>
<line x1="384.5" y1="940.4" x2="391" y2="940.4" stroke-width="1.6"/>
<rect x="405" y="930.2" width="5.6" height="5.2" fill="none" stroke-width="1.3"/>
<ellipse cx="407.8" cy="932.8" rx="1" ry="1" fill="#1a1a1a" stroke="none"/>
<rect x="405" y="945.4" width="5.6" height="5.2" fill="none" stroke-width="1.3"/>
<ellipse cx="407.8" cy="948" rx="1" ry="1" fill="#1a1a1a" stroke="none"/>
<rect x="397.2" y="937.8" width="5.6" height="5.2" fill="none" stroke-width="1.3"/>
<ellipse cx="400" cy="940.4" rx="1" ry="1" fill="#1a1a1a" stroke="none"/>
<rect x="412.8" y="937.8" width="5.6" height="5.2" fill="none" stroke-width="1.3"/>
<ellipse cx="415.6" cy="940.4" rx="1" ry="1" fill="#1a1a1a" stroke="none"/>
<ellipse cx="407.8" cy="940.4" rx="3.5" ry="3.3" fill="#fff" stroke-width="1.1"/>
<rect x="396.6" y="929.5" width="5.4" height="5.2" fill="none" stroke-width="1.1"/>
<rect x="396.6" y="946.1" width="5.4" height="5.2" fill="none" stroke-width="1.1"/>
<ellipse cx="416.2" cy="932" rx="2.9" ry="2.7" fill="none" stroke-width="1.1"/>
<ellipse cx="416.2" cy="948.8" rx="2.9" ry="2.7" fill="none" stroke-width="1.1"/>
</g>
<rect x="426.2" y="916.6" width="99.4" height="29.4" fill="none" stroke-width="1.5"/>
<rect x="427.8" y="917.9" width="2.8" height="2.6" fill="#1a1a1a" stroke="none"/>
<rect x="521.6" y="917.9" width="2.8" height="2.6" fill="#1a1a1a" stroke="none"/>
<rect x="427.8" y="942.1" width="2.8" height="2.6" fill="#1a1a1a" stroke="none"/>
<rect x="521.6" y="942.1" width="2.8" height="2.6" fill="#1a1a1a" stroke="none"/>
<rect x="438.6" y="920" width="4.4" height="5.2" fill="#444" stroke-width="0.7"/>
<rect x="444.6" y="920" width="24.4" height="5.2" fill="#444" stroke-width="0.7"/>
<rect x="471.4" y="920" width="12.2" height="5.2" fill="#444" stroke-width="0.7"/>
<line x1="441.8" y1="921" x2="441.8" y2="924.4" stroke-width="0.7" stroke="#ccc"/>
<line x1="447" y1="921" x2="447" y2="924.4" stroke-width="0.7" stroke="#ccc"/>
<line x1="452" y1="921" x2="452" y2="924.4" stroke-width="0.7" stroke="#ccc"/>
<line x1="457" y1="921" x2="457" y2="924.4" stroke-width="0.7" stroke="#ccc"/>
<line x1="462" y1="921" x2="462" y2="924.4" stroke-width="0.7" stroke="#ccc"/>
<line x1="467" y1="921" x2="467" y2="924.4" stroke-width="0.7" stroke="#ccc"/>
<line x1="474.5" y1="921" x2="474.5" y2="924.4" stroke-width="0.7" stroke="#ccc"/>
<line x1="479.5" y1="921" x2="479.5" y2="924.4" stroke-width="0.7" stroke="#ccc"/>
<ellipse cx="434.6" cy="922.4" rx="1.4" ry="1.8" fill="none" stroke-width="0.8"/>
<line x1="443.5" y1="917" x2="443.5" y2="920" stroke-width="0.6" stroke="#666"/>
<line x1="457" y1="917" x2="457" y2="920" stroke-width="0.6" stroke="#666"/>
<line x1="484.8" y1="917" x2="484.8" y2="927.6" stroke-width="0.6" stroke="#666"/>
<ellipse cx="517.8" cy="921.6" rx="3.6" ry="3.4" fill="none" stroke-width="0.9"/>
<line x1="516" y1="921.8" x2="519.6" y2="921.8" stroke-width="1.3"/>
<rect x="430.8" y="927.8" width="50.4" height="10.4" fill="none" stroke-width="0.9"/>
<ellipse cx="435.4" cy="932.8" rx="3.5" ry="3.3" fill="none" stroke="#444"/>
<ellipse cx="435.4" cy="932.8" rx="2.1" ry="2" fill="none" stroke-width="0.7" stroke="#777"/>
<line x1="440" y1="927.8" x2="440" y2="938.2" stroke-width="0.7"/>
<ellipse cx="443.6" cy="934.2" rx="2.6" ry="2.5" fill="none" stroke-width="0.9"/>
<ellipse cx="443.6" cy="934.2" rx="1.2" ry="1.1" fill="none" stroke-width="0.7"/>
<line x1="447.2" y1="927.8" x2="447.2" y2="938.2" stroke-width="0.7"/>
<ellipse cx="450.8" cy="934" rx="2.7" ry="2.6" fill="none" stroke-width="1.2"/>
<ellipse cx="457.4" cy="934" rx="2.7" ry="2.6" fill="none" stroke-width="1.2"/>
<ellipse cx="464" cy="934" rx="2.7" ry="2.6" fill="none" stroke-width="1.2"/>
<ellipse cx="470.6" cy="934" rx="2.7" ry="2.6" fill="none" stroke-width="1.2"/>
<ellipse cx="477.2" cy="934" rx="2.7" ry="2.6" fill="none" stroke-width="1.2"/>
<rect x="483" y="927.8" width="15.6" height="14.6" fill="none" stroke-width="0.9"/>
<rect x="484.6" y="930" width="12.4" height="4.6" fill="#888"/>
<rect x="486.4" y="935.6" width="9" height="5.8" fill="#555"/>
<rect x="488.6" y="937.2" width="4.6" height="2.6" fill="#ddd" stroke="none"/>
<rect x="500.8" y="928" width="10.8" height="9" fill="none" stroke-width="0.9"/>
<rect x="503" y="930.8" width="6.4" height="2.8" fill="#333" stroke="none"/>
<rect x="512.8" y="928" width="9.4" height="9" fill="none" stroke-width="0.9"/>
<rect x="514.8" y="930.2" width="5.4" height="5" fill="#999"/>
<rect x="479.6" y="946" width="46" height="16" fill="none"/>
<rect x="482.6" y="950.4" width="12.8" height="9.4" fill="#fff" stroke-width="1.7"/>
<rect x="485" y="953.4" width="8" height="4.2" fill="#eee"/>
<line x1="482.6" y1="952" x2="495.4" y2="952" stroke-width="1.2"/>
<rect x="505.8" y="948.6" width="15.8" height="12.2" fill="none" stroke-width="0.9"/>
<rect x="508" y="950.4" width="11.6" height="8.8" fill="#fff" stroke-width="1.5" rx="1.2"/>
<rect x="510.3" y="953.2" width="1.8" height="3.4" fill="#1a1a1a" stroke="none"/>
<rect x="515.5" y="953.2" width="1.8" height="3.4" fill="#1a1a1a" stroke="none"/>
<rect x="513.2" y="952.4" width="1.2" height="2.6" fill="#1a1a1a" stroke="none"/>
<line x1="473.5" y1="957.6" x2="478" y2="957.6" stroke-width="0.9"/>
<ellipse cx="452.8" cy="959.4" rx="2" ry="1.9" fill="#1a1a1a" stroke="none"/>
</g>
<g id="labels" opacity="0.999">
<text transform="translate(99.6 186.46) rotate(-90) scale(0.8856 1)" font-size="24.3">546<tspan x="39.87" textLength="30.61" lengthAdjust="spacingAndGlyphs">～</tspan><tspan x="69.52" textLength="41.29" lengthAdjust="spacingAndGlyphs">706</tspan><tspan x="110.99" y="-3.49" font-size="18.86" textLength="8.29" lengthAdjust="spacingAndGlyphs">*</tspan><tspan x="121.5" y="-6.4" font-size="17.29" textLength="10.92" lengthAdjust="spacingAndGlyphs">2</tspan></text>
<text transform="translate(345.02 111.6) scale(0.9975 1)" font-size="22.8">ø60.5</text>
<text transform="translate(285.18 332.5) scale(1.0000 1)" font-size="22.8">L4</text>
<text transform="translate(375.33 332.2) scale(1.0282 1)" font-size="22.8">299.5</text>
<text transform="translate(476.23 332.2) scale(1.0264 1)" font-size="22.8">238.5</text>
<text transform="translate(362.17 358.8) scale(0.8256 1)" font-size="22.8">(11-25/32)</text>
<text transform="translate(478.16 358.8) scale(0.8305 1)" font-size="22.8">(9-3/8)</text>
<text transform="translate(425.47 397.3) scale(1.0012 1)" font-size="22.8">L3</text>
<text transform="translate(424.11 443.6) scale(0.9264 1)" font-size="22.8">L1</text>
<text transform="translate(32.81 529.8) scale(1.0355 1)" font-size="22.8">Upper edge of</text>
<text transform="translate(33.04 557.8) scale(1.0401 1)" font-size="22.8">projected image</text>
<text transform="translate(32.82 623.1) scale(1.0316 1)" font-size="22.8">Projected image</text>
<text transform="translate(32.82 684.3) scale(1.0306 1)" font-size="22.8">Lower edge of</text>
<text transform="translate(33.04 712.6) scale(1.0401 1)" font-size="22.8">projected image</text>
<text transform="translate(406.69 757.4) scale(0.9936 1)" font-size="22.8">L1</text>
<text transform="translate(407.45 804.2) scale(1.0677 1)" font-size="22.8">L3</text>
<text transform="translate(286.87 849.4) scale(1.0044 1)" font-size="22.8">L4</text>
<text transform="translate(132.4 169.68) rotate(-90) scale(1.0445 1)" font-size="22">(21-1/2–</text>
<text transform="translate(160.3 183.63) rotate(-90) scale(1.1778 1)" font-size="22.6">27-25/32)</text>
<text transform="translate(51.8 347.5) rotate(-90) scale(0.9337 1)" font-size="23.8">A2</text>
<text transform="translate(98.4 407.3) rotate(-90) scale(0.8367 1)" font-size="23.8">A1</text>
<text transform="translate(98.4 826.5) rotate(-90) scale(0.8188 1)" font-size="23.8">A1</text>
<text transform="translate(51.8 867.7) rotate(-90) scale(0.8691 1)" font-size="23.8">A2</text>
</g>
</svg>
</body>
</html>
